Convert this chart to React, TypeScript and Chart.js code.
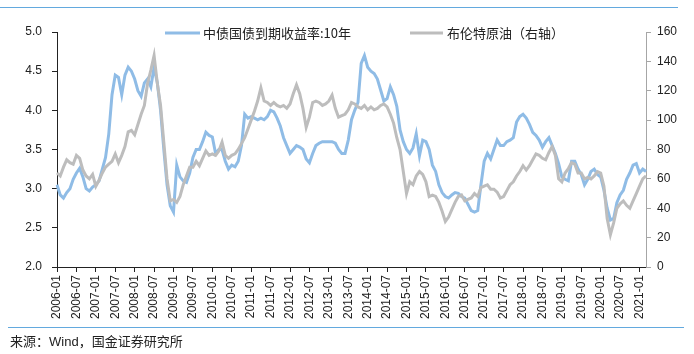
import React, { useEffect, useRef } from "react";
import { Chart, registerables } from "chart.js";

Chart.register(...registerables);

// Monthly categories 2006-01 .. 2021-03
const startYear = 2006;
const monthCount = 183;
const months: string[] = [];
for (let i = 0; i < monthCount; i++) {
  const y = startYear + Math.floor(i / 12);
  const m = (i % 12) + 1;
  months.push(`${y}-${m < 10 ? "0" + m : m}`);
}

const tickLabels = [
  "2006-01", "2006-07", "2007-01", "2007-07", "2008-01", "2008-07", "2009-01", "2009-07",
  "2010-01", "2010-07", "2011-01", "2011-07", "2012-01", "2012-07", "2013-01", "2013-07",
  "2014-01", "2014-07", "2015-01", "2015-07", "2016-01", "2016-07", "2017-01", "2017-07",
  "2018-01", "2018-07", "2019-01", "2019-07", "2020-01", "2020-07", "2021-01",
];

const seriesNames = ["中债国债到期收益率:10年", "布伦特原油（右轴）"];

// China 10Y government bond yield (%), monthly
const yield10y = [
  3.05, 2.92, 2.88, 2.95, 3.0, 3.12, 3.2, 3.26, 3.15, 3.0, 2.97, 3.02,
  3.05, 3.1, 3.25, 3.4, 3.7, 4.2, 4.45, 4.42, 4.2, 4.45, 4.55, 4.5,
  4.4, 4.25, 4.18, 4.35, 4.4, 4.3, 4.55, 4.35, 4.0, 3.5, 3.05, 2.78,
  2.7, 3.3, 3.15, 3.1, 3.08, 3.2, 3.4, 3.5, 3.5, 3.6, 3.72, 3.68,
  3.66, 3.45, 3.5, 3.5, 3.35, 3.25, 3.3, 3.28, 3.35, 3.55, 3.95, 3.9,
  3.92, 3.9, 3.88, 3.9, 3.88, 3.92, 4.0, 3.98, 3.9, 3.8, 3.65, 3.55,
  3.45, 3.5, 3.55, 3.53, 3.5, 3.38, 3.33, 3.45, 3.55, 3.58, 3.6, 3.6,
  3.6, 3.6, 3.58, 3.5, 3.45, 3.45, 3.62, 3.88, 4.0, 4.1, 4.6, 4.7,
  4.55, 4.5, 4.47, 4.4, 4.26, 4.12, 4.15, 4.3, 4.2, 4.05, 3.75, 3.6,
  3.5, 3.45, 3.52, 3.7, 3.42, 3.62, 3.6, 3.5, 3.3, 3.22, 3.05, 2.95,
  2.9, 2.88, 2.92, 2.95, 2.94, 2.9, 2.88, 2.8, 2.72, 2.7, 2.72, 3.05,
  3.35, 3.45, 3.38, 3.5, 3.62, 3.55, 3.55, 3.6, 3.62, 3.65, 3.85, 3.92,
  3.95, 3.9, 3.82, 3.72, 3.68, 3.62, 3.53, 3.6, 3.65, 3.55, 3.45, 3.32,
  3.15, 3.12, 3.1, 3.35, 3.35, 3.25, 3.18, 3.05, 3.12, 3.22, 3.25, 3.18,
  3.15, 2.98, 2.75, 2.6, 2.62, 2.82, 2.92, 2.98, 3.12, 3.2, 3.3, 3.32,
  3.2, 3.25, 3.22,
];

// Brent crude oil (USD/bbl), monthly
const brent = [
  64, 62, 68, 73, 71, 70, 76, 74, 66, 62, 60, 63,
  55, 59, 64, 68, 70, 72, 77, 71, 76, 82, 92, 93,
  90, 97, 104, 110, 125, 134, 144, 125, 110, 85, 60, 45,
  46, 44, 48, 56, 62, 68, 68, 72, 69, 74, 79, 76,
  77, 76, 79, 85, 76, 74, 76, 77, 80, 84, 88, 94,
  100, 106, 113, 122, 113, 112, 110, 112, 110, 109, 110, 108,
  111, 118, 124, 118, 108, 95, 102, 112, 113, 112, 110, 111,
  113, 117, 108, 102, 103, 104, 107, 112, 111, 109, 108, 110,
  107, 109, 107, 108, 110, 111, 109, 104, 98, 88, 80, 65,
  50, 58, 56, 62, 65, 63, 58, 48, 49, 48, 44, 38,
  31, 34, 39, 44, 48, 49, 45, 46, 47, 50, 48, 54,
  55, 56, 53, 53, 51, 47, 48, 52, 56, 58, 62, 65,
  69, 66, 69, 73, 77, 76, 74, 73, 78, 82, 76, 60,
  58, 64, 67, 71, 70, 64, 64, 60, 61, 60, 62, 65,
  64, 55, 33, 22, 30, 40, 43, 45, 42, 40, 45, 50,
  55, 60, 62,
];

const blueColor = "#8FBCE6";
const greyColor = "#BDBDBD";
const ruleColor = "#63A9DE";
const cjkFont = "'Noto Sans CJK SC', 'Noto Sans', sans-serif";
const latinFont = "'Liberation Sans', Arial, sans-serif";

const legendPlugin = {
  id: "customLegend",
  afterDraw(chart: any) {
    const ctx = chart.ctx;
    const y = chart.chartArea.top + 1;
    ctx.save();
    ctx.lineWidth = 3;
    ctx.font = `13px ${cjkFont}`;
    ctx.textBaseline = "middle";
    ctx.fillStyle = "#222";
    ctx.strokeStyle = blueColor;
    ctx.beginPath();
    ctx.moveTo(165, y);
    ctx.lineTo(200, y);
    ctx.stroke();
    ctx.fillText(seriesNames[0], 203, y);
    ctx.strokeStyle = greyColor;
    ctx.beginPath();
    ctx.moveTo(410, y);
    ctx.lineTo(443, y);
    ctx.stroke();
    ctx.fillText(seriesNames[1], 447, y);
    ctx.restore();
  },
};

export default function App() {
  const ref = useRef<HTMLCanvasElement | null>(null);

  useEffect(() => {
    if (!ref.current) return;
    const tickSet = new Set(tickLabels);
    const chart = new Chart(ref.current, {
      type: "line",
      data: {
        labels: months,
        datasets: [
          {
            label: seriesNames[0],
            data: yield10y,
            yAxisID: "yL",
            borderColor: blueColor,
            borderWidth: 3,
            pointRadius: 0,
            tension: 0,
            order: 2,
          },
          {
            label: seriesNames[1],
            data: brent,
            yAxisID: "yR",
            borderColor: greyColor,
            borderWidth: 3,
            pointRadius: 0,
            tension: 0,
            order: 1,
          },
        ],
      },
      options: {
        responsive: false,
        animation: false,
        layout: { padding: { top: 32, left: 0, right: 0, bottom: 0 } },
        plugins: { legend: { display: false }, tooltip: { enabled: false } },
        scales: {
          x: {
            type: "category",
            offset: false,
            afterFit: (s: any) => {
              s.height = 87;
            },
            border: { display: true, color: "#222", width: 1 },
            grid: {
              drawOnChartArea: false,
              drawTicks: true,
              tickLength: 5,
              color: (c: any) =>
                tickSet.has(months[c.index]) ? "#222" : "rgba(0,0,0,0)",
            },
            ticks: {
              autoSkip: false,
              minRotation: 90,
              maxRotation: 90,
              padding: 3,
              color: "#222",
              font: { family: latinFont, size: 12 },
              callback: (v: any, i: number) => (tickSet.has(months[i]) ? months[i] : ""),
            },
          },
          yL: {
            type: "linear",
            position: "left",
            min: 2,
            max: 5,
            afterFit: (s: any) => {
              s.width = 57;
            },
            border: { display: true, color: "#222", width: 1 },
            grid: { drawOnChartArea: false, drawTicks: true, tickLength: 5, color: "#222" },
            ticks: {
              stepSize: 0.5,
              padding: 10,
              color: "#222",
              font: { family: latinFont, size: 12 },
              callback: (v: any) => Number(v).toFixed(1),
            },
          },
          yR: {
            type: "linear",
            position: "right",
            min: 0,
            max: 160,
            afterFit: (s: any) => {
              s.width = 48;
            },
            border: { display: true, color: "#A6A6A6", width: 1 },
            grid: { drawOnChartArea: false, drawTicks: true, tickLength: 5, color: "#A6A6A6" },
            ticks: {
              stepSize: 20,
              padding: 6,
              color: "#222",
              font: { family: latinFont, size: 12 },
            },
          },
        },
      },
      plugins: [legendPlugin],
    } as any);
    return () => chart.destroy();
  }, []);

  return (
    <div style={{ position: "fixed", left: 0, top: 0, width: 694, height: 354, background: "#fff", overflow: "hidden" }}>
      <div style={{ position: "absolute", left: 0, top: 7, width: 678, height: 0, borderTop: `1px solid ${ruleColor}` }} />
      <canvas ref={ref} width={694} height={354} style={{ position: "absolute", left: 0, top: 0 }} />
      <div style={{ position: "absolute", left: 8, top: 327, width: 676, height: 0, borderTop: `1px solid ${ruleColor}` }} />
      <div
        style={{
          position: "absolute",
          left: 10,
          top: 333,
          fontFamily: cjkFont,
          fontSize: 13,
          lineHeight: "16px",
          color: "#222",
          whiteSpace: "nowrap",
        }}
      >
        来源：<span style={{ fontFamily: latinFont }}>Wind</span>，国金证券研究所
      </div>
    </div>
  );
}
